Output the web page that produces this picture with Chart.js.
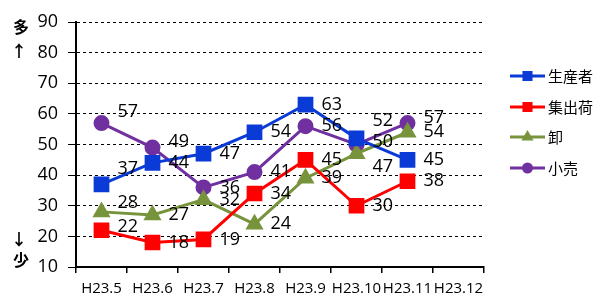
<!DOCTYPE html>
<html>
<head>
<meta charset="utf-8">
<script src="https://cdn.jsdelivr.net/npm/chart.js@4"></script>
<style>
  body { margin: 0; background: #fff; }
</style>
</head>
<body>
<canvas id="grafico" width="607" height="294"></canvas>
<script>
const meses = ["H23.5", "H23.6", "H23.7", "H23.8", "H23.9", "H23.10", "H23.11", "H23.12"];

const seisansha = [37, 44, 47, 54, 63, 52, 45, null];
const shukka = [22, 18, 19, 34, 45, 30, 38, null];
const oroshi = [28, 27, 32, 24, 39, 47, 54, null];
const kouri = [57, 49, 36, 41, 56, 50, 57, null];

const nomes = ["生産者", "集出荷", "卸", "小売"];

const numFont = '"Open Sans", "Noto Sans", sans-serif';
const jpFont = '"Noto Sans CJK JP", sans-serif';

// small vertical nudges for labels that were moved by hand in the original
const ajusteRotulos = {
  0: { 0: -15, 5: -18 },
  1: { 0: -3 },
  2: { 0: -9, 5: 13 },
  3: { 0: -11, 1: -6, 5: -3, 6: -5 }
};

const rotulosValores = {
  id: "rotulosValores",
  afterDatasetsDraw(chart) {
    const ctx = chart.ctx;
    ctx.save();
    ctx.font = "18px " + numFont;
    ctx.fillStyle = "#000";
    ctx.textBaseline = "middle";
    ctx.textAlign = "left";
    chart.data.datasets.forEach((ds, i) => {
      chart.getDatasetMeta(i).data.forEach((pt, j) => {
        if (ds.data[j] == null) return;
        const dy = (ajusteRotulos[i] && ajusteRotulos[i][j]) || 0;
        ctx.fillText(ds.data[j], pt.x + 16, pt.y + dy);
      });
    });
    ctx.restore();
  }
};

const legendaLateral = {
  id: "legendaLateral",
  afterDraw(chart) {
    const ctx = chart.ctx;
    const linhas = [76, 107, 137, 168];
    ctx.save();
    chart.data.datasets.forEach((ds, i) => {
      const y = linhas[i];
      ctx.strokeStyle = ds.borderColor;
      ctx.lineWidth = 3;
      ctx.beginPath();
      ctx.moveTo(510, y);
      ctx.lineTo(545, y);
      ctx.stroke();
      Chart.helpers.drawPoint(ctx, {
        pointStyle: ds.pointStyle,
        radius: ds.pointStyle === "rect" ? 5 : 4,
        borderWidth: 1
      }, 527.5, y);
      ctx.fillStyle = ds.borderColor;
      ctx.fill();
      ctx.fillStyle = "#000";
      ctx.font = "15px " + jpFont;
      ctx.textBaseline = "middle";
      ctx.textAlign = "left";
      ctx.fillText(nomes[i], 548, y);
    });

    // 多↑ / ↓少 beside the axis
    ctx.font = "bold 16px " + jpFont;
    ctx.textAlign = "center";
    ctx.fillText("多", 21, 27);
    ctx.fillText("↑", 19, 51);
    ctx.fillText("↓", 19, 239);
    ctx.fillText("少", 21, 260);
    ctx.restore();
  }
};

function serie(nome, valores, cor, estilo, raio) {
  return {
    label: nome,
    data: valores,
    borderColor: cor,
    backgroundColor: cor,
    pointBackgroundColor: cor,
    pointBorderColor: cor,
    pointStyle: estilo,
    pointRadius: raio,
    borderWidth: 3,
    tension: 0,
    spanGaps: false
  };
}

new Chart(document.getElementById("grafico"), {
  type: "line",
  data: {
    labels: meses,
    datasets: [
      serie(nomes[0], seisansha, "#0a3bd6", "rect", 9),
      serie(nomes[1], shukka, "#ff0000", "rect", 9),
      serie(nomes[2], oroshi, "#77933c", "triangle", 7.5),
      serie(nomes[3], kouri, "#7030a0", "circle", 6.5)
    ]
  },
  options: {
    responsive: false,
    animation: false,
    layout: { padding: { top: 22, right: 123, left: 0, bottom: 0 } },
    plugins: {
      legend: { display: false },
      tooltip: { enabled: false }
    },
    scales: {
      x: {
        offset: true,
        grid: {
          offset: true,
          drawOnChartArea: false,
          drawTicks: true,
          tickLength: 6,
          color: "#000",
          lineWidth: 1.5
        },
        border: { display: true, color: "#000", width: 2 },
        ticks: {
          color: "#000",
          font: { size: 15, family: numFont },
          padding: 7,
          maxRotation: 0,
          autoSkip: false
        },
        afterFit: s => { s.height = 27; }
      },
      y: {
        min: 10,
        max: 90,
        ticks: {
          stepSize: 10,
          color: "#000",
          font: { size: 18, family: numFont },
          padding: 10
        },
        grid: { color: "#000", lineWidth: 1, tickLength: 8 },
        border: { display: true, color: "#000", width: 2, dash: [3, 3] },
        afterFit: s => { s.width = 76; }
      }
    }
  },
  plugins: [rotulosValores, legendaLateral]
});
</script>
</body>
</html>
